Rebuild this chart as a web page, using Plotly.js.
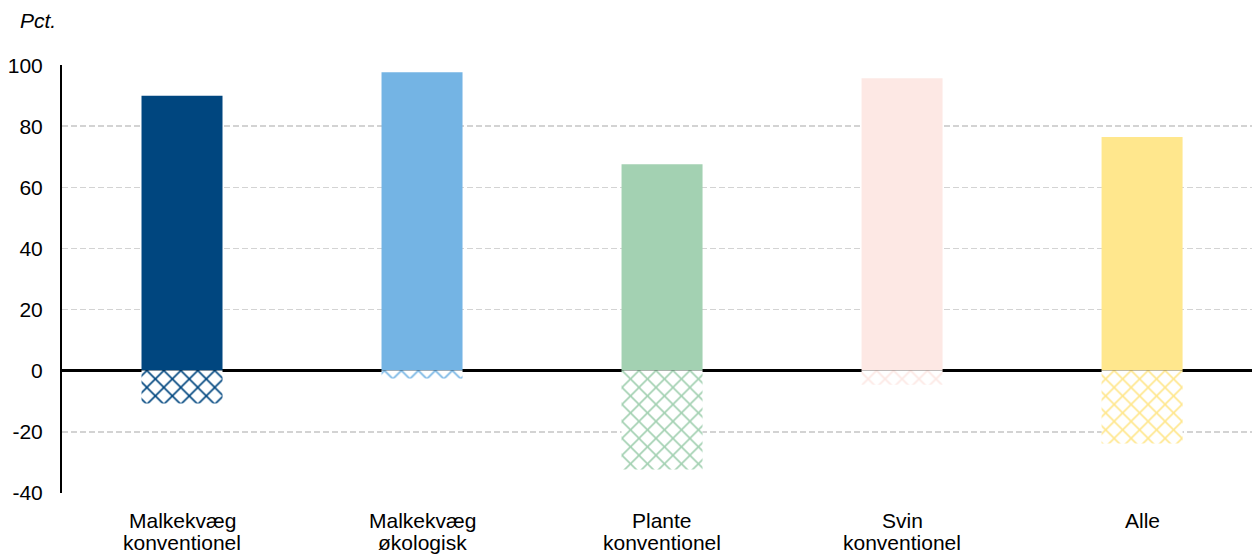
<!DOCTYPE html>
<html>
<head>
<meta charset="utf-8">
<script src="https://cdn.plot.ly/plotly-3.0.1.min.js"></script>
<style>html,body{margin:0;padding:0;background:#fff;}#chart{width:1252px;height:554px;}</style>
</head>
<body>
<div id="chart"></div>
<script>
var categoryLine1 = ["Malkekvæg", "Malkekvæg", "Plante", "Svin", "Alle"];
var categoryLine2 = ["konventionel", "økologisk", "konventionel", "konventionel", ""];
var positiveValues = [90, 97.7, 67.6, 95.8, 76.5];
var negativeValues = [-10.8, -2.6, -32.4, -4.6, -23.9];
var barColors = ["#00467F", "#74B4E4", "#A3D1B2", "#FDE8E4", "#FFE78D"];
var yTicks = [-40, -20, 0, 20, 40, 60, 80, 100];

var xIdx = categoryLine1.map(function(_, i){ return i; });

var tracePos = {
  type: "bar", x: xIdx, y: positiveValues, width: 0.3375,
  marker: {color: barColors, line: {width: 0}},
  hoverinfo: "skip", showlegend: false
};
var traceNeg = {
  type: "bar", x: xIdx, y: negativeValues, width: 0.3375,
  marker: {color: "#ffffff", line: {width: 0},
    pattern: {shape: "x", fgcolor: barColors, bgcolor: "#ffffff", fgopacity: 1, size: 12, solidity: 0.25, fillmode: "overlay"}},
  hoverinfo: "skip", showlegend: false
};

var annotations = [{
  text: "<i>Pct.</i>", xref: "paper", yref: "paper", x: -0.037, y: 1.105,
  xanchor: "left", yanchor: "middle", showarrow: false, font: {size: 21}
}];
xIdx.forEach(function(i){
  annotations.push({text: categoryLine1[i], xref: "x", yref: "paper", x: i, y: -0.0635,
    xanchor: "center", yanchor: "middle", showarrow: false, font: {size: 21}});
  if (categoryLine2[i]) annotations.push({text: categoryLine2[i], xref: "x", yref: "paper", x: i, y: -0.1165,
    xanchor: "center", yanchor: "middle", showarrow: false, font: {size: 21}});
});

var layout = {
  width: 1252, height: 554,
  margin: {l: 62, r: 0, t: 65, b: 61},
  paper_bgcolor: "#ffffff", plot_bgcolor: "#ffffff",
  barmode: "relative",
  font: {family: "Liberation Sans, Arial, sans-serif", size: 21, color: "#000"},
  xaxis: {
    range: [-0.5, 4.458], tickvals: xIdx, showticklabels: false,
    showgrid: false, zeroline: false, showline: false, ticks: "", fixedrange: true
  },
  yaxis: {
    range: [-40.1, 100.1], tickvals: yTicks, ticktext: yTicks.map(String),
    showgrid: true, gridcolor: "#d3d3d3", griddash: "6px,3px", gridwidth: 1.8,
    zeroline: true, zerolinecolor: "#000000", zerolinewidth: 2.5,
    showline: true, linecolor: "#000000", linewidth: 2,
    ticks: "", ticklabelstandoff: 13, tickfont: {size: 21}, fixedrange: true
  },
  annotations: annotations
};

Plotly.newPlot("chart", [tracePos, traceNeg], layout, {displayModeBar: false, staticPlot: true});
</script>
</body>
</html>
